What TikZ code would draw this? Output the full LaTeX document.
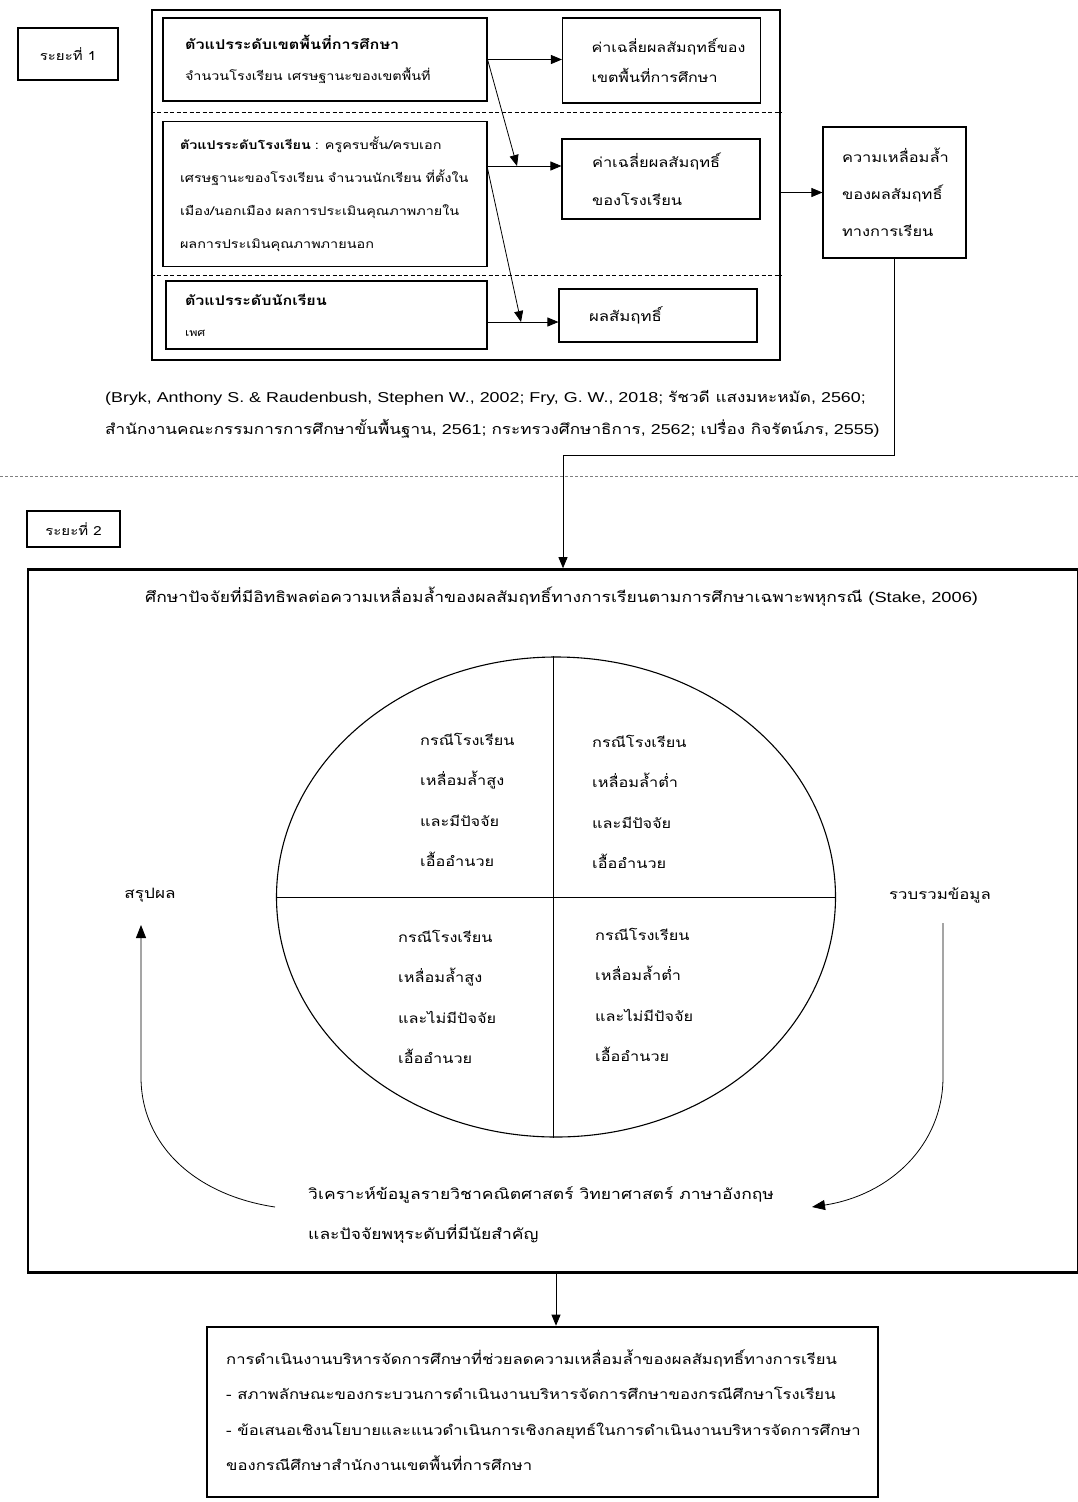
\documentclass[tikz,border=0pt]{standalone}
\usepackage{fontspec}
\setmainfont{Loma}[Script=Thai,FakeStretch=1.2]
\newfontfamily\lat{Liberation Sans}[FakeStretch=1.25]
\usetikzlibrary{arrows.meta,calc,shapes.geometric}
\begin{document}
\begin{tikzpicture}[x=1pt,y=-1pt,
  thinbox/.style={draw,line width=1.1pt,rectangle,align=left,inner ysep=0pt},
  thickbox/.style={draw,line width=2.6pt,rectangle,inner sep=0pt},
  arr/.style={-{Triangle[length=11pt,width=9pt]},line width=0.8pt},
  sarr/.style={-{Triangle[length=13pt,width=10pt]},line width=0.8pt},
  lbl/.style={inner sep=0pt,align=left,anchor=west},
  sep/.style={dashed,dash pattern=on 4pt off 2.5pt,line width=0.9pt}
]
\useasboundingbox (0,0) rectangle (1078,1502);

% ---------- phase 1 ----------
\node[thinbox,align=center,minimum width=100,minimum height=52,font=\fontsize{12.5}{16}\selectfont] (s1) at (68,54) {ระยะที่ 1};

\node[thickbox,minimum width=628,minimum height=350] (outer) at (466,185) {};
\draw[sep] (outer.west |- 0,112) -- (outer.east |- 0,112);
\draw[sep] (outer.west |- 0,275) -- (outer.east |- 0,275);

\node[thinbox,minimum width=324,minimum height=83,text width=280,inner xsep=22,font=\fontsize{13.5}{31}\selectfont] (A) at (325,59.5)
  {{\bfseries ตัวแปรระดับเขตพื้นที่การศึกษา}\\{\fontsize{12}{31}\selectfont จำนวนโรงเรียน เศรษฐานะของเขตพื้นที่}};
\node[thinbox,minimum width=324,minimum height=145,text width=294,inner xsep=15,font=\fontsize{12}{33}\selectfont] (B) at (325,194)
  {\hspace*{2pt}{\bfseries ตัวแปรระดับโรงเรียน} : ครูครบชั้น/ครบเอก\\\hspace*{2pt}เศรษฐานะของโรงเรียน จำนวนนักเรียน ที่ตั้งใน\\\hspace*{2pt}เมือง/นอกเมือง ผลการประเมินคุณภาพภายใน\\\hspace*{2pt}ผลการประเมินคุณภาพภายนอก};
\node[thinbox,minimum width=321,minimum height=68,text width=283,inner xsep=19,font=\fontsize{13.4}{31}\selectfont] (C) at (326.5,315)
  {{\bfseries ตัวแปรระดับนักเรียน}\\{\fontsize{10.4}{31}\selectfont เพศ}};

\node[thinbox,minimum width=197,minimum height=85,text width=150,inner xsep=24,font=\fontsize{13.4}{30}\selectfont] (D) at (661.5,60.5)
  {\hspace*{5pt}ค่าเฉลี่ยผลสัมฤทธิ์ของ\\\hspace*{5pt}เขตพื้นที่การศึกษา};
\node[thinbox,minimum width=198,minimum height=80,text width=138,inner xsep=30,font=\fontsize{13.7}{38}\selectfont] (E) at (661,179)
  {ค่าเฉลี่ยผลสัมฤทธิ์\\ของโรงเรียน};
\node[thinbox,minimum width=198,minimum height=53,text width=138,inner xsep=30,font=\fontsize{14}{30}\selectfont] (F) at (658,315.5)
  {ผลสัมฤทธิ์};
\node[thinbox,minimum width=143,minimum height=131,text width=115,inner xsep=14,font=\fontsize{13.7}{37}\selectfont] (G) at (894.5,192.5)
  {\hspace*{5pt}ความเหลื่อมล้ำ\\\hspace*{5pt}ของผลสัมฤทธิ์\\\hspace*{5pt}ทางการเรียน};

\coordinate (bE) at (487,166);
\coordinate (cF) at (487,322);
\coordinate (t1) at (517,166);
\coordinate (t2) at (521,322);
\draw[arr] (A.east) -- (A.east -| D.west);
\draw[arr] (bE) -- (bE -| E.west);
\draw[arr] (cF) -- (cF -| F.west);
\draw[arr] (A.east) -- (t1);
\draw[arr] (bE) -- (t2);
\draw[arr] (outer.east |- G.west) -- (G.west);

\node[lbl,font=\fontsize{14.3}{32}\selectfont] (cite) at (105,414)
  {{\lat (Bryk, Anthony S. \& Raudenbush, Stephen W., 2002; Fry, G. W., 2018; }รัชวดี แสงมหะหมัด{\lat , 2560;}\\
   สำนักงานคณะกรรมการการศึกษาขั้นพื้นฐาน{\lat , 2561; }กระทรวงศึกษาธิการ{\lat , 2562; }เปรื่อง กิจรัตน์ภร{\lat , 2555)}};

\draw[dashed,dash pattern=on 3pt off 2pt,gray,line width=0.9pt] (0,476) -- (1078,476);

% ---------- phase 2 ----------
\node[thinbox,align=center,minimum width=93,minimum height=36,font=\fontsize{12.5}{16}\selectfont] (s2) at (73.5,529) {ระยะที่ 2};

\node[thickbox,minimum width=1050,minimum height=703] (P2) at (553,921) {};
\coordinate (gb) at (563,455);
\draw[arr] (G.south) |- (gb) -- (gb |- P2.north);

\node[lbl,font=\fontsize{14.6}{16}\selectfont] (title) at (145,597)
  {ศึกษาปัจจัยที่มีอิทธิพลต่อความเหลื่อมล้ำของผลสัมฤทธิ์ทางการเรียนตามการศึกษาเฉพาะพหุกรณี {\lat (Stake, 2006)}};

\node[draw,ellipse,line width=1.1pt,minimum width=559,minimum height=480,inner sep=0pt] (E0) at (556,897) {};
\draw[line width=1pt] (E0.north -| 553,0) -- (E0.south -| 553,0);
\draw[line width=1pt] (E0.west) -- (E0.east);

\node[lbl,font=\fontsize{13.6}{40.5}\selectfont] (q1) at (420,800) {กรณีโรงเรียน\\เหลื่อมล้ำสูง\\และมีปัจจัย\\เอื้ออำนวย};
\node[lbl,font=\fontsize{13.6}{40.5}\selectfont] (q2) at (592,802) {กรณีโรงเรียน\\เหลื่อมล้ำต่ำ\\และมีปัจจัย\\เอื้ออำนวย};
\node[lbl,font=\fontsize{13.6}{40.5}\selectfont] (q3) at (398,997) {กรณีโรงเรียน\\เหลื่อมล้ำสูง\\และไม่มีปัจจัย\\เอื้ออำนวย};
\node[lbl,font=\fontsize{13.6}{40.5}\selectfont] (q4) at (595,995) {กรณีโรงเรียน\\เหลื่อมล้ำต่ำ\\และไม่มีปัจจัย\\เอื้ออำนวย};

\node[inner sep=0pt,font=\fontsize{14.3}{16}\selectfont] (sum) at (150,895) {สรุปผล};
\node[inner sep=0pt,font=\fontsize{14}{16}\selectfont] (col) at (940,895) {รวบรวมข้อมูล};

\node[lbl,font=\fontsize{14.6}{40}\selectfont] (ana) at (308,1215)
  {วิเคราะห์ข้อมูลรายวิชาคณิตศาสตร์ วิทยาศาสตร์ ภาษาอังกฤษ\\และปัจจัยพหุระดับที่มีนัยสำคัญ};

\coordinate (lstart) at (275,1207);
\coordinate (lmid) at (141,1077);
\coordinate (ltip) at (141,925);
\draw[sarr] (lstart) .. controls (195,1195) and (141,1145) .. (lmid) -- (ltip);
\coordinate (rstart) at (943,923);
\coordinate (rmid) at (943,1077);
\coordinate (rtip) at (812,1207);
\draw[sarr] (rstart) -- (rmid) .. controls (943,1145) and (890,1195) .. (rtip);

% ---------- result ----------
\node[thickbox,minimum width=671,minimum height=170] (P3) at (542.5,1412) {};
\coordinate (bb) at (556,1272);
\draw[arr] (bb) -- (bb |- P3.north);
\node[lbl,font=\fontsize{13.9}{35.5}\selectfont] (res) at (226,1410)
  {การดำเนินงานบริหารจัดการศึกษาที่ช่วยลดความเหลื่อมล้ำของผลสัมฤทธิ์ทางการเรียน\\
   - สภาพลักษณะของกระบวนการดำเนินงานบริหารจัดการศึกษาของกรณีศึกษาโรงเรียน\\
   - ข้อเสนอเชิงนโยบายและแนวดำเนินการเชิงกลยุทธ์ในการดำเนินงานบริหารจัดการศึกษา\\
   ของกรณีศึกษาสำนักงานเขตพื้นที่การศึกษา};
\end{tikzpicture}
\end{document}
